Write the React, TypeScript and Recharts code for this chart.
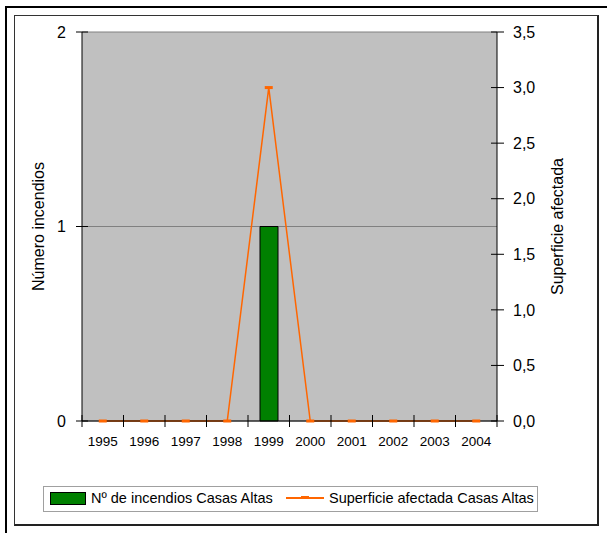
import React from 'react';
import { ComposedChart, Bar, Line, XAxis, YAxis, CartesianGrid } from 'recharts';

const years = ['1995', '1996', '1997', '1998', '1999', '2000', '2001', '2002', '2003', '2004'];
const incendios = [0, 0, 0, 0, 1, 0, 0, 0, 0, 0];
const superficie = [0, 0, 0, 0, 3.0, 0, 0, 0, 0, 0];
const leftTicks = [0, 1, 2];
const rightTicks = [0, 0.5, 1, 1.5, 2, 2.5, 3, 3.5];
const seriesNames = ['Nº de incendios Casas Altas', 'Superficie afectada Casas Altas'];
const axisTitles = ['Número incendios', 'Superficie afectada'];

const data = years.map((y, i) => ({ year: y, incendios: incendios[i], superficie: superficie[i] }));

const FONT = '"Liberation Sans", Arial, sans-serif';
const GREEN = '#008000';
const ORANGE = '#FF6600';

const XTick = (props: any) => {
  const { x, y, payload, index, visibleTicksCount } = props;
  const off = payload && payload.offset ? payload.offset : 20.75;
  const last = index === (visibleTicksCount ?? years.length) - 1;
  return (
    <g>
      <line x1={x - off} x2={x - off} y1={y - 6} y2={y + 6} stroke="#000" strokeWidth={1} />
      {last && <line x1={x + off} x2={x + off} y1={y - 6} y2={y + 6} stroke="#000" strokeWidth={1} />}
      <text x={x} y={y + 25} textAnchor="middle" fontFamily={FONT} fontSize={13.5} fill="#000">
        {payload.value}
      </text>
    </g>
  );
};

const LeftTick = (props: any) => {
  const { x, y, payload } = props;
  return (
    <g>
      <line x1={x - 6} x2={x + 6} y1={y} y2={y} stroke="#000" strokeWidth={1} />
      <text x={x - 16} y={y} dy="0.36em" textAnchor="end" fontFamily={FONT} fontSize={16} fill="#000">
        {String(payload.value)}
      </text>
    </g>
  );
};

const RightTick = (props: any) => {
  const { x, y, payload } = props;
  return (
    <g>
      <line x1={x - 6} x2={x + 7} y1={y} y2={y} stroke="#000" strokeWidth={1} />
      <text x={x + 16} y={y} dy="0.36em" textAnchor="start" fontFamily={FONT} fontSize={16} fill="#000">
        {Number(payload.value).toFixed(1).replace('.', ',')}
      </text>
    </g>
  );
};

const Dash = (props: any) => {
  const { cx, cy } = props;
  if (cx == null || cy == null) return null;
  return <rect x={cx - 4} y={cy - 1.5} width={8} height={3} fill={ORANGE} />;
};

export default function App() {
  return (
    <div style={{ position: 'absolute', left: 0, top: 0, width: 607, height: 533, background: '#fff', overflow: 'hidden' }}>
      {/* outer frame lines */}
      <div style={{ position: 'absolute', left: 5, top: 6, width: 602, height: 2, background: '#000' }} />
      <div style={{ position: 'absolute', left: 5, top: 6, width: 2, height: 527, background: '#000' }} />
      {/* inner frame */}
      <div style={{ position: 'absolute', left: 14, top: 15, width: 585, height: 511, borderLeft: '1px solid #333', borderTop: '1px solid #333', borderRight: '2px solid #222', borderBottom: '2px solid #222', boxSizing: 'border-box' }} />
      <div style={{ position: 'absolute', left: 0, top: 0 }}>
        <ComposedChart width={607} height={533} data={data} margin={{ top: 32, right: 30, bottom: 82, left: 0 }}>
          <CartesianGrid yAxisId="left" vertical={false} fill="#C0C0C0" stroke="#808080" strokeWidth={1} />
          <XAxis
            dataKey="year"
            interval={0}
            height={30}
            axisLine={{ stroke: '#000', strokeWidth: 1 }}
            tickLine={false}
            tickSize={0}
            tickMargin={0}
            tick={<XTick />}
          />
          <YAxis
            yAxisId="left"
            orientation="left"
            width={82}
            domain={[0, 2]}
            ticks={leftTicks}
            interval={0}
            axisLine={{ stroke: '#000', strokeWidth: 1 }}
            tickLine={false}
            tickSize={0}
            tickMargin={0}
            tick={<LeftTick />}
            label={(p: any) => {
              const vb = p.viewBox || { x: 0, y: 32, width: 82, height: 389 };
              const cx = vb.x + 38;
              const cy = vb.y + vb.height / 2;
              return (
                <text x={cx} y={cy} transform={`rotate(-90 ${cx} ${cy})`} textAnchor="middle" dy="0.36em" fontFamily={FONT} fontSize={16} fill="#000">
                  {axisTitles[0]}
                </text>
              );
            }}
          />
          <YAxis
            yAxisId="right"
            orientation="right"
            width={80}
            domain={[0, 3.5]}
            ticks={rightTicks}
            interval={0}
            axisLine={{ stroke: '#000', strokeWidth: 1 }}
            tickLine={false}
            tickSize={0}
            tickMargin={0}
            tick={<RightTick />}
            label={(p: any) => {
              const vb = p.viewBox || { x: 497, y: 32, width: 80, height: 389 };
              const cx = vb.x + 60;
              const cy = vb.y + vb.height / 2;
              return (
                <text x={cx} y={cy} transform={`rotate(-90 ${cx} ${cy})`} textAnchor="middle" dy="0.36em" fontFamily={FONT} fontSize={16} fill="#000">
                  {axisTitles[1]}
                </text>
              );
            }}
          />
          <Bar yAxisId="left" dataKey="incendios" name={seriesNames[0]} fill={GREEN} stroke="#000" strokeWidth={1} barSize={18} isAnimationActive={false} />
          <Line yAxisId="right" dataKey="superficie" name={seriesNames[1]} stroke={ORANGE} strokeWidth={1.5} dot={<Dash />} activeDot={false} isAnimationActive={false} type="linear" />
        </ComposedChart>
      </div>
      {/* legend */}
      <div style={{ position: 'absolute', left: 43, top: 486, width: 495, height: 26, border: '1px solid #A0A0A0', fontFamily: FONT, fontSize: 14.5, color: '#000', boxSizing: 'border-box' }}>
        <div style={{ position: 'absolute', left: 6, top: 5, width: 36, height: 13, background: GREEN, border: '1px solid #000', boxSizing: 'border-box' }} />
        <div style={{ position: 'absolute', left: 47, top: 3, whiteSpace: 'nowrap', lineHeight: '17px' }}>{seriesNames[0]}</div>
        <div style={{ position: 'absolute', left: 242, top: 10, width: 38, height: 1.5, background: ORANGE }} />
        <div style={{ position: 'absolute', left: 257, top: 9, width: 8, height: 3, background: ORANGE }} />
        <div style={{ position: 'absolute', left: 285, top: 3, whiteSpace: 'nowrap', lineHeight: '17px' }}>{seriesNames[1]}</div>
      </div>
    </div>
  );
}
